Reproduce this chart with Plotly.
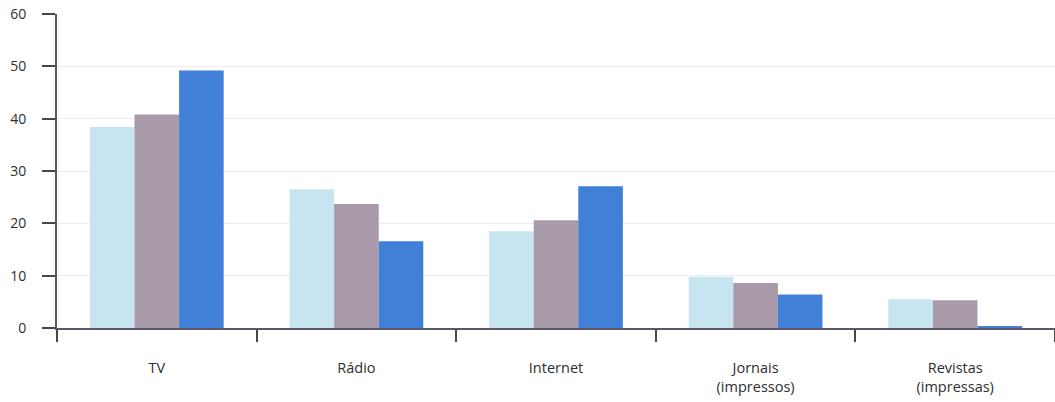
import plotly.graph_objects as go

categorias = ["TV", "Rádio", "Internet", "Jornais<br>(impressos)", "Revistas<br>(impressas)"]
serie_1 = [38.4, 26.5, 18.5, 9.8, 5.5]
serie_2 = [40.8, 23.7, 20.6, 8.6, 5.3]
serie_3 = [49.2, 16.6, 27.1, 6.4, 0.3]
y_ticks = [0, 10, 20, 30, 40, 50, 60]

cores = ["#c6e5f0", "#a89aa9", "#4080d6"]

fig = go.Figure()
for nome, valores, cor in zip(["Série 1", "Série 2", "Série 3"], [serie_1, serie_2, serie_3], cores):
    fig.add_trace(go.Bar(x=categorias, y=valores, name=nome, marker=dict(color=cor, line=dict(width=0))))

fig.update_layout(
    width=1055, height=402,
    margin=dict(l=57, r=0, t=14, b=74),
    barmode="group", bargap=0.33, bargroupgap=0,
    showlegend=False,
    plot_bgcolor="white", paper_bgcolor="white",
    font=dict(family="Open Sans", size=12, color="#2e2e2e"),
)
fig.update_xaxes(
    type="category", range=[-0.5, 4.5], automargin=False,
    showline=True, linecolor="#5e5566", linewidth=2,
    ticks="outside", tickson="boundaries", ticklen=12, tickcolor="#4a4450", tickwidth=2,
    ticklabelstandoff=26,
    showgrid=False, tickfont=dict(size=14.5),
)
fig.update_yaxes(
    range=[0, 60], tickvals=y_ticks, automargin=False,
    showline=True, linecolor="#5e5566", linewidth=2,
    ticks="outside", ticklen=13, tickcolor="#4a4450", tickwidth=2,
    ticklabelstandoff=13,
    showgrid=True, gridcolor="#ececec", gridwidth=1,
    zeroline=False, tickfont=dict(size=14),
)

# tira a margem padrão do body para o gráfico ocupar a janela toda
fig.write_html(
    "out.html",
    config={"displayModeBar": False},
    post_script="document.body.style.margin='0';document.body.style.overflow='hidden';",
)
